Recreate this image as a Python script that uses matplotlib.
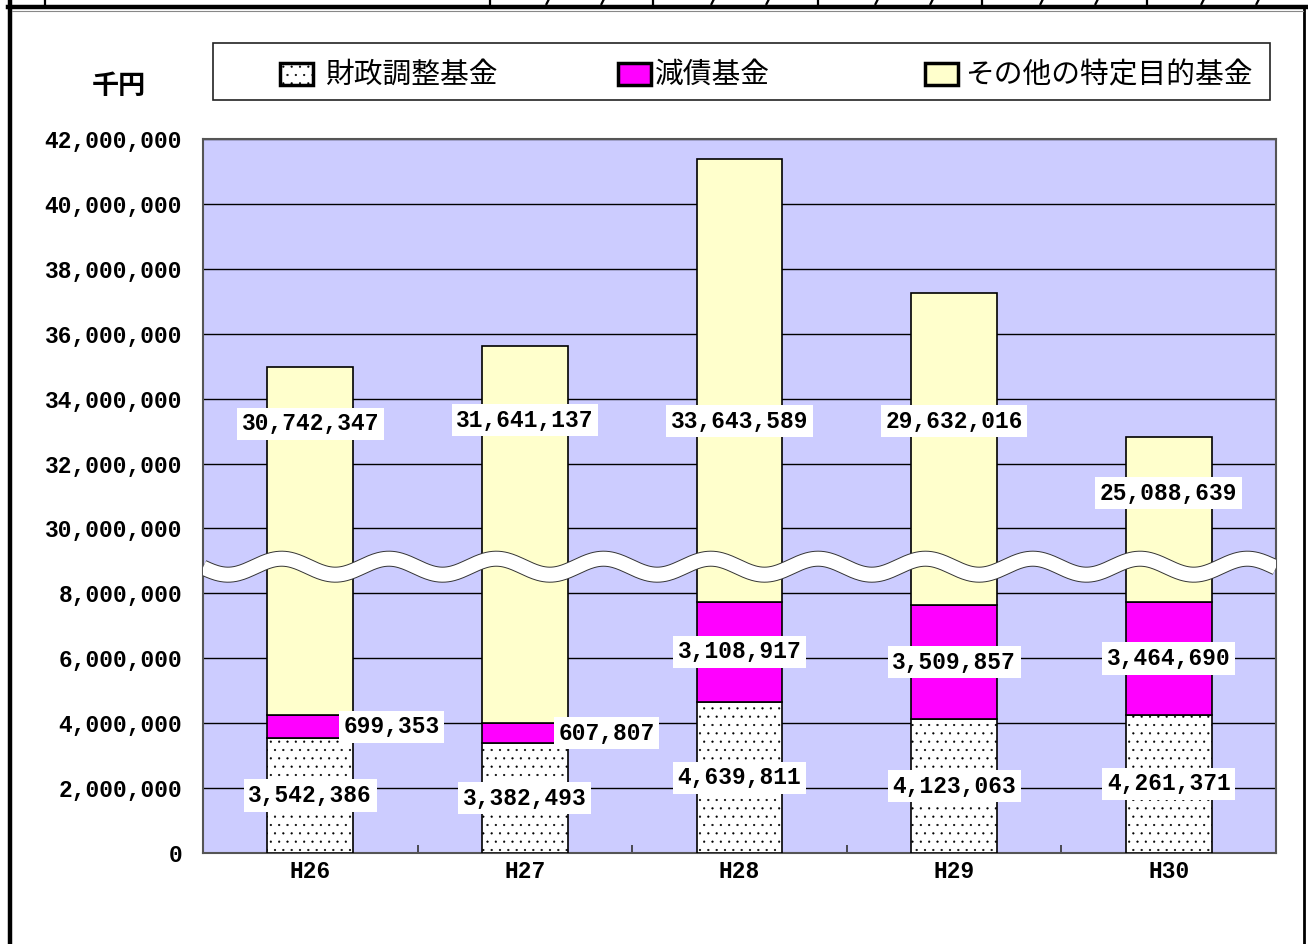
import numpy as np
import matplotlib.pyplot as plt
from matplotlib.patches import Rectangle
from matplotlib.lines import Line2D
from matplotlib.ticker import FuncFormatter

# data (千円)
years = ['H26', 'H27', 'H28', 'H29', 'H30']
zaisei = [3542386, 3382493, 4639811, 4123063, 4261371]
gensai = [699353, 607807, 3108917, 3509857, 3464690]
sonota = [30742347, 31641137, 33643589, 29632016, 25088639]
series_names = ['財政調整基金', '減債基金', 'その他の特定目的基金']
yticks = [0, 2000000, 4000000, 6000000, 8000000,
          30000000, 32000000, 34000000, 36000000, 38000000, 40000000, 42000000]

# where the labels of the top segment sit (value units)
sonota_label_y = [33.22e6, 33.34e6, 33.31e6, 33.31e6, 31.09e6]

# broken axis: 8.9M..29.1M squeezed into a tiny band
LOW, HIGH, SHIFT = 8.9e6, 29.1e6, 20e6
SQ = (HIGH - SHIFT) - LOW


def fwd(v):
    v = np.asarray(v, dtype=float)
    mid = LOW + (v - LOW) * SQ / (HIGH - LOW)
    return np.where(v <= LOW, v, np.where(v >= HIGH, v - SHIFT, mid))


def inv(d):
    d = np.asarray(d, dtype=float)
    mid = LOW + (d - LOW) * (HIGH - LOW) / SQ
    return np.where(d <= LOW, d, np.where(d >= HIGH - SHIFT, d + SHIFT, mid))


W, H = 1308, 944
def fx(px):
    return px / W
def fy(py):
    return 1 - py / H


plt.rcParams['hatch.linewidth'] = 0.35
num_font = dict(family='Liberation Mono', weight='bold', fontsize=16.5)
jp_font = ['Noto Sans CJK JP', 'DejaVu Sans']

fig = plt.figure(figsize=(W / 100, H / 100), dpi=100)
ax = fig.add_axes([fx(203), fy(853), fx(1276) - fx(203), fy(139) - fy(853)])
ax.set_yscale('function', functions=(fwd, inv))
ax.set_facecolor('#CCCCFF')

x = np.arange(len(years))
z = np.array(zaisei)
g = np.array(gensai)
s = np.array(sonota)
bw = 0.4
ax.bar(x, z, bw, color='white', edgecolor='black', hatch='..', lw=1.2, zorder=3)
ax.bar(x, g, bw, bottom=z, color='#FF00FF', edgecolor='black', lw=1.2, zorder=3)
ax.bar(x, s, bw, bottom=z + g, color='#FFFFCC', edgecolor='black', lw=1.2, zorder=3)

box = dict(boxstyle='square,pad=0.2', fc='white', ec='none')
for i in x:
    ax.text(i, z[i] / 2, f'{z[i]:,}', ha='center', va='center', bbox=box, zorder=6, **num_font)
    if g[i] < 1e6:
        ax.text(i + bw / 2 - 0.045, z[i] + g[i] / 2, f'{g[i]:,}', ha='left', va='center',
                bbox=box, zorder=6, **num_font)
    else:
        ax.text(i, z[i] + g[i] / 2, f'{g[i]:,}', ha='center', va='center', bbox=box, zorder=6, **num_font)
    ax.text(i, sonota_label_y[i], f'{s[i]:,}', ha='center', va='center', bbox=box, zorder=6, **num_font)

ax.set_xlim(-0.5, 4.5)
ax.set_ylim(0, 42000000)
ax.set_yticks(yticks)
ax.yaxis.set_major_formatter(FuncFormatter(lambda v, p: f'{int(round(v)):,}'))
ax.set_xticks(x, years)
ax.set_xticks([0.5, 1.5, 2.5, 3.5], minor=True)
ax.yaxis.set_minor_locator(plt.NullLocator())
ax.tick_params(axis='y', length=0, pad=15)
ax.tick_params(axis='x', which='major', length=0, pad=5)
ax.tick_params(axis='x', which='minor', direction='in', length=6, width=1.2, color='#333333')
for lab in ax.get_xticklabels() + ax.get_yticklabels():
    lab.set_family('Liberation Mono')
    lab.set_weight('bold')
    lab.set_fontsize(16.5)
ax.grid(axis='y', color='black', lw=1, zorder=1)
ax.set_axisbelow(True)
for sp in ax.spines.values():
    sp.set_color('#555555')
    sp.set_linewidth(1.5)

# wave marking the break
xs = np.linspace(0, 1, 800)
yc = 0.401 - 0.0112 * np.cos(2 * np.pi * (xs - 0.0233) / 0.1)
ax.plot(xs, yc, transform=ax.transAxes, color='#333333', lw=11.5, solid_capstyle='butt', zorder=5)
ax.plot(xs, yc, transform=ax.transAxes, color='white', lw=10.1, solid_capstyle='butt', zorder=5.1)

# legend
fig.add_artist(Rectangle((fx(213), fy(100)), fx(1270) - fx(213), fy(43) - fy(100),
                         transform=fig.transFigure, fc='white', ec='#222222', lw=1.2))
faces = [('white', '..'), ('#FF00FF', None), ('#FFFFCC', None)]
mark_x = [280, 618, 925]
text_x = [325, 655, 965]
for (fc, ht), mx, tx, name in zip(faces, mark_x, text_x, series_names):
    fig.add_artist(Rectangle((fx(mx), fy(85)), fx(33), fy(63) - fy(85), transform=fig.transFigure,
                             fc=fc, ec='black', lw=2.5, hatch=ht))
    fig.text(fx(tx), fy(75), name, fontsize=20.7, va='center', ha='left', family=jp_font)

fig.text(fx(92), fy(86), '千円', fontsize=19.5, va='center', ha='left', weight='bold', family=jp_font)

# frame and the bottom edge of the table above it
fig.add_artist(Line2D([fx(8), 1], [fy(7), fy(7)], color='black', lw=3.2))
fig.add_artist(Line2D([fx(10), fx(10)], [0, 1], color='black', lw=3.2))
fig.add_artist(Line2D([fx(1304), fx(1304)], [0, fy(8)], color='black', lw=2))
fig.add_artist(Line2D([fx(12), fx(1303)], [fy(11), fy(11)], color='#888888', lw=0.8))
cells = [45, 490, 653, 818, 982, 1147]
for cx in cells:
    fig.add_artist(Line2D([fx(cx), fx(cx)], [fy(7), 1], color='black', lw=1.6))
# tails of the thousands separators of the cut-off table row
for right in cells[2:] + [1308]:
    for off in (106, 51):
        cx = right - off
        fig.add_artist(Line2D([fx(cx + 1.5), fx(cx - 0.5)], [fy(0), fy(4)], color='black', lw=1.6))

fig.savefig('out.png', dpi=100)
